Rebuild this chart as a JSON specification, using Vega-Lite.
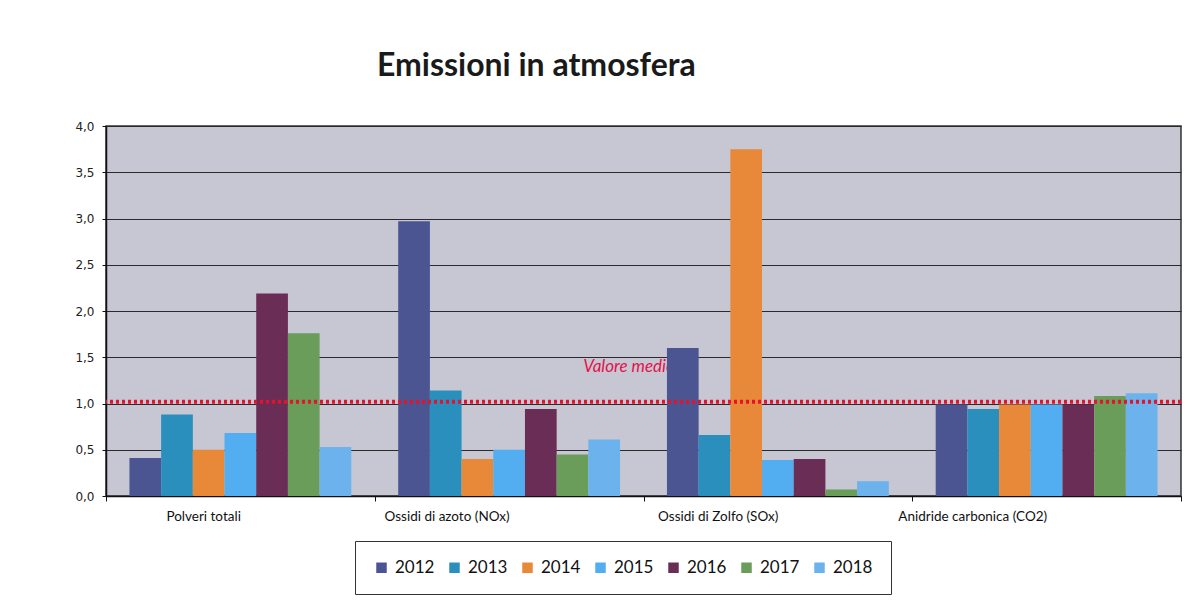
{
  "$schema": "https://vega.github.io/schema/vega-lite/v6.json",
  "width": 1075,
  "height": 370,
  "autosize": {"type": "none"},
  "padding": {"left": 106, "top": 126, "right": 11, "bottom": 108},
  "background": "white",
  "title": {
    "text": "Emissioni in atmosfera",
    "font": "Lato",
    "fontSize": 32,
    "fontWeight": "bold",
    "color": "#1a1a1a",
    "anchor": "start",
    "dx": 302,
    "offset": 37
  },
  "datasets": {
    "emissioni": [
      {"category": "Polveri totali", "year": "2012", "value": 0.41},
      {"category": "Polveri totali", "year": "2013", "value": 0.88},
      {"category": "Polveri totali", "year": "2014", "value": 0.50},
      {"category": "Polveri totali", "year": "2015", "value": 0.68},
      {"category": "Polveri totali", "year": "2016", "value": 2.19},
      {"category": "Polveri totali", "year": "2017", "value": 1.76},
      {"category": "Polveri totali", "year": "2018", "value": 0.53},
      {"category": "Ossidi di azoto (NOx)", "year": "2012", "value": 2.97},
      {"category": "Ossidi di azoto (NOx)", "year": "2013", "value": 1.14},
      {"category": "Ossidi di azoto (NOx)", "year": "2014", "value": 0.40},
      {"category": "Ossidi di azoto (NOx)", "year": "2015", "value": 0.50},
      {"category": "Ossidi di azoto (NOx)", "year": "2016", "value": 0.94},
      {"category": "Ossidi di azoto (NOx)", "year": "2017", "value": 0.45},
      {"category": "Ossidi di azoto (NOx)", "year": "2018", "value": 0.61},
      {"category": "Ossidi di Zolfo (SOx)", "year": "2012", "value": 1.60},
      {"category": "Ossidi di Zolfo (SOx)", "year": "2013", "value": 0.66},
      {"category": "Ossidi di Zolfo (SOx)", "year": "2014", "value": 3.75},
      {"category": "Ossidi di Zolfo (SOx)", "year": "2015", "value": 0.39},
      {"category": "Ossidi di Zolfo (SOx)", "year": "2016", "value": 0.40},
      {"category": "Ossidi di Zolfo (SOx)", "year": "2017", "value": 0.07},
      {"category": "Ossidi di Zolfo (SOx)", "year": "2018", "value": 0.16},
      {"category": "Anidride carbonica (CO2)", "year": "2012", "value": 0.99},
      {"category": "Anidride carbonica (CO2)", "year": "2013", "value": 0.94},
      {"category": "Anidride carbonica (CO2)", "year": "2014", "value": 0.99},
      {"category": "Anidride carbonica (CO2)", "year": "2015", "value": 0.99},
      {"category": "Anidride carbonica (CO2)", "year": "2016", "value": 0.99},
      {"category": "Anidride carbonica (CO2)", "year": "2017", "value": 1.08},
      {"category": "Anidride carbonica (CO2)", "year": "2018", "value": 1.11}
    ],
    "etichetta": [
      {"category": "Ossidi di azoto (NOx)", "value": 1.39, "label": "Valore medio"}
    ],
    "media": [
      {"value": 1.02}
    ]
  },
  "layer": [
    {
      "data": {"name": "etichetta"},
      "mark": {
        "type": "text",
        "align": "left",
        "baseline": "middle",
        "font": "Lato",
        "fontStyle": "italic",
        "fontSize": 17,
        "color": "#e3124b",
        "dx": 74
      },
      "encoding": {
        "x": {
          "field": "category",
          "type": "nominal",
          "sort": ["Polveri totali", "Ossidi di azoto (NOx)", "Ossidi di Zolfo (SOx)", "Anidride carbonica (CO2)"]
        },
        "y": {"field": "value", "type": "quantitative"},
        "text": {"field": "label"}
      }
    },
    {
      "data": {"name": "emissioni"},
      "mark": {"type": "bar"},
      "encoding": {
        "x": {
          "field": "category",
          "type": "nominal",
          "sort": ["Polveri totali", "Ossidi di azoto (NOx)", "Ossidi di Zolfo (SOx)", "Anidride carbonica (CO2)"],
          "scale": {"paddingInner": 0, "paddingOuter": 0},
          "axis": {
            "title": null,
            "labelAngle": 0,
            "tickBand": "extent",
            "domainColor": "#111",
            "domainWidth": 1.5,
            "tickColor": "#111",
            "tickSize": 5,
            "labelFont": "Lato",
            "labelFontSize": 13.5,
            "labelColor": "#111",
            "labelPadding": 15,
            "grid": false
          }
        },
        "xOffset": {
          "field": "year",
          "type": "nominal",
          "scale": {"paddingInner": 0, "paddingOuter": 0.74}
        },
        "y": {
          "field": "value",
          "type": "quantitative",
          "scale": {"domain": [0, 4], "nice": false},
          "axis": {
            "title": null,
            "values": [0, 0.5, 1, 1.5, 2, 2.5, 3, 3.5, 4],
            "labelExpr": "replace(format(datum.value, '.1f'), '.', ',')",
            "grid": true,
            "gridColor": "#2a2a2a",
            "gridWidth": 1,
            "domainColor": "#111",
            "domainWidth": 1.5,
            "tickColor": "#111",
            "tickSize": 4,
            "labelFont": "DejaVu Sans",
            "labelFontSize": 12,
            "labelColor": "#222",
            "labelPadding": 8
          }
        },
        "color": {
          "field": "year",
          "type": "nominal",
          "scale": {
            "domain": ["2012", "2013", "2014", "2015", "2016", "2017", "2018"],
            "range": ["#4a5592", "#2a8fbd", "#e8893a", "#52aef0", "#6a2d55", "#6a9c5a", "#6cb2ec"]
          },
          "legend": {
            "orient": "none",
            "legendX": 249,
            "legendY": 415,
            "direction": "horizontal",
            "columns": 7,
            "title": null,
            "strokeColor": "#333",
            "padding": 18,
            "symbolType": "square",
            "symbolSize": 110,
            "symbolStrokeWidth": 0,
            "labelFont": "Lato",
            "labelFontSize": 17,
            "labelColor": "#111",
            "labelOffset": 5,
            "columnPadding": 11
          }
        }
      }
    },
    {
      "data": {"name": "media"},
      "mark": {
        "type": "rule",
        "color": "#e8102a",
        "strokeWidth": 4,
        "strokeDash": [3, 3]
      },
      "encoding": {
        "y": {"field": "value", "type": "quantitative"}
      }
    }
  ],
  "config": {
    "view": {"fill": "#c6c7d3", "stroke": "#333", "strokeWidth": 1.5}
  }
}
